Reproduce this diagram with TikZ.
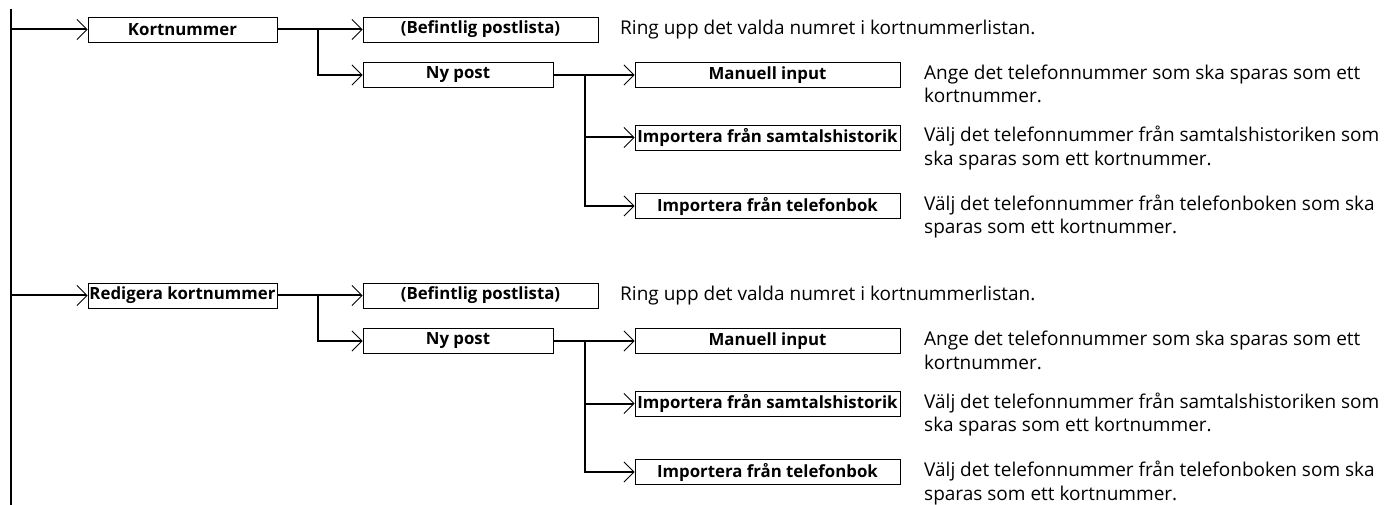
\documentclass[tikz,border=0pt]{standalone}
\usepackage{fontspec}
\setmainfont{Open Sans}
\usetikzlibrary{arrows.meta}
\begin{document}
\begin{tikzpicture}[x=1pt,y=-1pt,
  box/.style={draw,line width=0.9pt,minimum height=25pt,inner sep=0.5pt,font=\fontsize{16.8}{18}\selectfont\bfseries},
  link/.style={line width=2pt},
  tip/.style={-{Straight Barb[length=10pt,width=20pt,line width=0.9pt]}},
  desc/.style={anchor=base west,align=left,inner sep=0pt,font=\fontsize{19}{23.5}\selectfont}]
\useasboundingbox (0,0) rectangle (1385,505);
\coordinate (top) at (11,9); \coordinate (bot) at (11,505);
\draw[link] (top) -- (bot);
\foreach \g/\o/\head in {1/0/Kortnummer,2/266/Redigera kortnummer}{
  \node[box,minimum width=189pt] (m\g) at (182.5,29.5+\o) {\head};
  \node[box,minimum width=235pt] (b\g) at (480.5,29.5+\o) {(Befintlig postlista)};
  \node[box,minimum width=190pt] (n\g) at (458,75+\o) {Ny post};
  \node[box,minimum width=265pt] (p\g1) at (767.5,75+\o) {Manuell input};
  \node[box,minimum width=265pt] (p\g2) at (767.5,137.5+\o) {Importera från samtalshistorik};
  \node[box,minimum width=265pt] (p\g3) at (767.5,206+\o) {Importera från telefonbok};
  \coordinate (s\g) at (318,29.5+\o); \coordinate (q\g) at (585,75+\o);
  \draw[link,tip] (top |- m\g.west) -- (m\g.west);
  \draw[link] (m\g.east) -- (s\g);
  \draw[link,tip] (s\g) -- (b\g.west);
  \draw[link,tip] (s\g) |- (n\g.west);
  \draw[link] (n\g.east) -- (q\g);
  \draw[link,tip] (q\g) -- (p\g1.west);
  \draw[link,tip] (q\g) |- (p\g2.west);
  \draw[link,tip] (q\g) |- (p\g3.west);
  % last line baseline
  \node[desc] (d\g0) at (620,35+\o) {Ring upp det valda numret i kortnummerlistan.};
  \node[desc] (d\g1) at (924,103+\o) {Ange det telefonnummer som ska sparas som ett\\kortnummer.};
  \node[desc] (d\g2) at (924,165.5+\o) {Välj det telefonnummer från samtalshistoriken som\\ska sparas som ett kortnummer.};
  \node[desc] (d\g3) at (924,234+\o) {Välj det telefonnummer från telefonboken som ska\\sparas som ett kortnummer.};
}
\end{tikzpicture}
\end{document}
